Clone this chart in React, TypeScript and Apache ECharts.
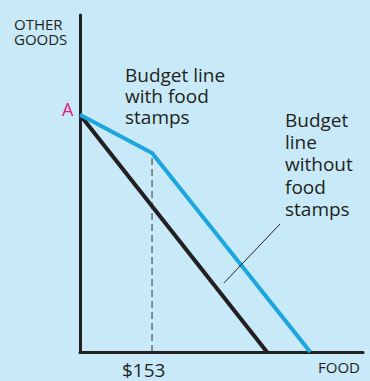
import React, { useEffect, useRef } from "react";
import * as echarts from "echarts";

// Budget lines (food in $, other goods in arbitrary units)
const budgetWithout: [number, number][] = [[0, 504], [397, 0]];
const budgetWith: [number, number][] = [[0, 504], [153, 423], [489, 0]];
const stampLevel: [number, number][] = [[153, 0], [153, 423]];
const leader: [number, number][] = [[425, 272], [306, 147]];
const xMax = 601;
const yMax = 716;
const tickLabel = "$153";
const yAxisTitle = ["OTHER", "GOODS"];
const withLabel = ["Budget line", "with food", "stamps"];
const withoutLabel = ["Budget", "line", "without", "food", "stamps"];

const BG = "#c8e9f7";
const INK = "#231f20";
const BLUE = "#1ba6dd";
const FONT = "'Open Sans', Lato, sans-serif";

function txt(text: string, x: number, baseline: number, size: number, fill = INK, lh = size + 1) {
  return {
    type: "text",
    left: x,
    top: baseline - (lh / 2 + 0.42 * size),
    style: { text, font: `${size}px ${FONT}`, lineHeight: lh, fill },
  };
}

export default function App() {
  const ref = useRef<HTMLDivElement>(null);
  useEffect(() => {
    const chart = echarts.init(ref.current!, undefined, { renderer: "svg" });
    const withBase = [83, 104, 125];
    const withoutBase = [127.5, 150, 172, 194.5, 217];
    chart.setOption({
      animation: false,
      backgroundColor: BG,
      grid: { left: 80, top: 15, width: 283, height: 337 },
      xAxis: {
        type: "value", min: 0, max: xMax,
        axisLine: { show: true, lineStyle: { color: INK, width: 3 } },
        axisTick: { show: false }, axisLabel: { show: false }, splitLine: { show: false },
      },
      yAxis: {
        type: "value", min: 0, max: yMax,
        axisLine: { show: true, lineStyle: { color: INK, width: 3 } },
        axisTick: { show: false }, axisLabel: { show: false }, splitLine: { show: false },
      },
      series: [
        { type: "line", data: stampLevel, symbol: "none", lineStyle: { color: "#333", width: 1, type: [7, 4] }, z: 1 },
        { type: "line", data: budgetWithout, symbol: "none", lineStyle: { color: INK, width: 4 }, z: 3 },
        { type: "line", data: budgetWith, symbol: "none", lineStyle: { color: BLUE, width: 4 }, z: 3 },
        { type: "line", data: leader, symbol: "none", lineStyle: { color: INK, width: 1 }, z: 4 },
      ],
      graphic: [
        txt(yAxisTitle[0], 14, 30, 15, INK, 14),
        txt(yAxisTitle[1], 14, 44.5, 15, INK, 14),
        txt("A", 62, 116.5, 18, "#e3197b"),
        ...withLabel.map((t, i) => txt(t, 125, withBase[i], 19, INK, 19)),
        ...withoutLabel.map((t, i) => txt(t, 285, withoutBase[i], 19, INK, 19)),
        txt(tickLabel, 122, 377.5, 19, INK, 19),
        txt("FOOD", 318, 373.5, 15),
      ],
    });
    return () => chart.dispose();
  }, []);
  return <div ref={ref} style={{ position: "fixed", left: 0, top: 0, width: 370, height: 381 }} />;
}
